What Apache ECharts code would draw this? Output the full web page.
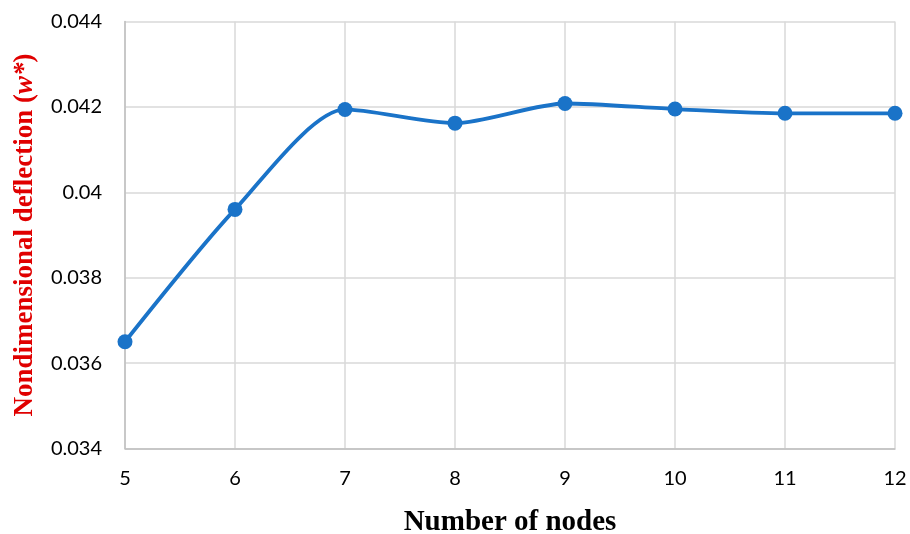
<!DOCTYPE html>
<html>
<head>
<meta charset="utf-8">
<script src="https://cdn.jsdelivr.net/npm/echarts@6/dist/echarts.min.js"></script>
<style>html,body{margin:0;padding:0;background:#fff;}#c{width:910px;height:534px;}</style>
</head>
<body>
<div id="c"></div>
<script>
var categories = ['5','6','7','8','9','10','11','12'];
var deflection = [0.0365, 0.0396, 0.04194, 0.04162, 0.04208, 0.04195, 0.04185, 0.04185];
var yTicks = {min: 0.034, max: 0.044, interval: 0.002};

var chart = echarts.init(document.getElementById('c'));
chart.setOption({
  animation: false,
  grid: {left: 125, right: 15, top: 21.5, bottom: 85.5, containLabel: false, outerBoundsMode: 'none'},
  xAxis: {
    type: 'category',
    data: categories,
    boundaryGap: false,
    name: 'Number of nodes',
    nameLocation: 'middle',
    nameGap: 60,
    nameTextStyle: {fontFamily: 'Liberation Serif', fontWeight: 'bold', fontSize: 29, color: '#000'},
    axisLine: {lineStyle: {color: '#bfbfbf', width: 1.5}},
    axisTick: {show: false},
    axisLabel: {fontFamily: 'Lato', fontSize: 20, color: '#000', margin: 20},
    splitLine: {show: true, lineStyle: {color: '#d9d9d9', width: 1.5}}
  },
  yAxis: {
    type: 'value',
    min: yTicks.min, max: yTicks.max, interval: yTicks.interval,
    name: '{b|Nondimensional deflection (}{i|w*}{b|)}',
    nameLocation: 'middle',
    nameGap: 86,
    nameRotate: 90,
    nameTextStyle: {
      rich: {
        b: {fontFamily: 'Liberation Serif', fontWeight: 'bold', fontSize: 27, color: '#e00000'},
        i: {fontFamily: 'Liberation Serif', fontWeight: 'bold', fontStyle: 'italic', fontSize: 27, color: '#e00000'}
      }
    },
    axisLine: {show: true, lineStyle: {color: '#bfbfbf', width: 1.5}},
    axisTick: {show: false},
    axisLabel: {fontFamily: 'Lato', fontSize: 20, color: '#000', margin: 23,
      formatter: function (v) { return String(parseFloat(v.toFixed(3))); }},
    splitLine: {show: true, lineStyle: {color: '#d9d9d9', width: 1.5}}
  },
  series: [{
    type: 'line',
    data: deflection,
    smooth: 0.25,
    symbol: 'circle',
    symbolSize: 15,
    lineStyle: {color: '#1a73c8', width: 3.8},
    itemStyle: {color: '#1a73c8'}
  }]
});
</script>
</body>
</html>
